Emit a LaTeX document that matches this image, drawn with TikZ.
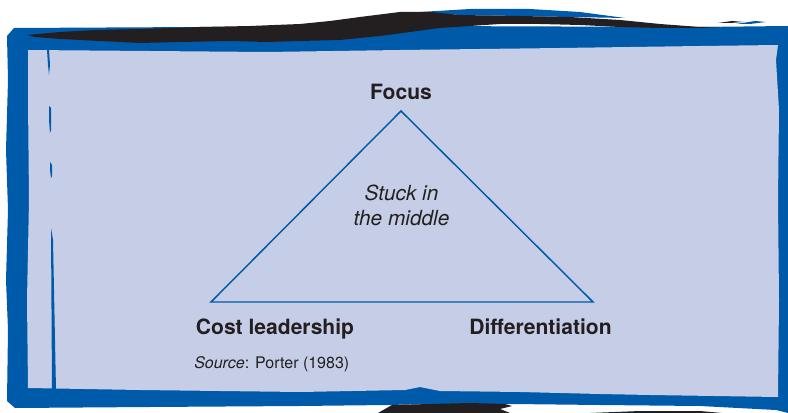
\documentclass[tikz,border=0pt]{standalone}
\usepackage{fontspec}
\setmainfont{TeX Gyre Heros}
\usepackage{xcolor}
\definecolor{frameblue}{RGB}{0,90,170}
\definecolor{panel}{RGB}{197,206,230}
\definecolor{ink}{RGB}{35,31,32}
\tikzset{
  corner/.style={font=\bfseries\fontsize{15.8}{18}\selectfont, text=ink, inner sep=0.75pt, anchor=base},
  middle/.style={font=\itshape\fontsize{15.6}{18.75}\selectfont, text=ink, inner sep=0.75pt, align=center},
  brush/.style={draw=none, fill=#1}
}

\begin{document}
\begin{tikzpicture}[x=0.75pt,y=0.75pt,yscale=-1,xscale=1]
\useasboundingbox (0,0) rectangle (788,413);
%Shape: Polygon [frame]
\fill [brush=frameblue] (14,28) -- (200,27) -- (420,26) -- (700,27) -- (788,26) -- (788,413) -- (776,410) -- (700,406) -- (600,405) -- (512,404) -- (430,404) -- (388,405) -- (300,406) -- (150,407) -- (15,408) -- (7,401) -- (8,330) -- (6,280) -- (8,210) -- (6,150) -- (8,80) -- (7,36) -- cycle ;
%Shape: Polygon [panel]
\fill [brush=panel] (28,50) -- (150,51) -- (267,52) -- (400,50) -- (560,48) -- (700,46) -- (778,45) -- (776,60) -- (779,110) -- (778,200) -- (779,300) -- (778,397) -- (650,395) -- (600,394) -- (520,392) -- (440,391) -- (420,387) -- (405,390) -- (300,392) -- (140,390) -- (28,388) -- (27,300) -- (29,200) -- (28,100) -- cycle ;
%Shape: Polygon [brush stroke top]
\fill [brush=frameblue] (420,12) -- (470,9) -- (530,9) -- (580,12) -- (625,18) -- (570,17) -- (520,16) -- (460,15) -- cycle ;
\fill [brush=ink] (27,35) -- (60,32) -- (95,30) -- (140,29) -- (200,27) -- (250,26) -- (300,24) -- (330,21) -- (360,17) -- (400,12) -- (430,12) -- (460,15) -- (520,16) -- (570,17) -- (620,20) -- (660,24) -- (700,27) -- (720,27) -- (700,28) -- (660,28) -- (620,27) -- (580,25) -- (540,24) -- (500,24) -- (470,26) -- (440,28) -- (410,32) -- (380,36) -- (340,40) -- (300,41) -- (267,42) -- (230,41) -- (180,42) -- (140,43) -- (100,41) -- (60,39) -- (35,37) -- cycle ;
\fill [brush=ink] (718,23) -- (732,21) -- (744,22) -- (730,23) -- cycle ;
\fill [brush=frameblue] (736,24) -- (755,21) -- (766,22) -- (750,24) -- cycle ;
%Shape: Polygon [brush stroke bottom]
\fill [brush=ink] (378,413) -- (392,405) -- (430,404) -- (470,403) -- (505,404) -- (512,406) -- (500,409) -- (510,413) -- cycle ;
\fill [brush=ink] (590,413) -- (640,411) -- (700,411) -- (722,413) -- cycle ;
%Shape: Polygon [inner stroke]
\fill [brush=frameblue] (47,50) -- (49,50) -- (50,65) -- (49,75) -- (48,65) -- cycle ;
\fill [brush=frameblue] (49,106) -- (51,108) -- (51,130) -- (50,133) -- (49,120) -- cycle ;
\fill [brush=frameblue] (50,162) -- (52,165) -- (52,176) -- (51,178) -- (50,170) -- cycle ;
\fill [brush=frameblue] (51,228) -- (53,240) -- (56,390) -- (52,390) -- cycle ;

%Triangle
\coordinate (apex) at (401,111) ;
\coordinate (left) at (211,302) ;
\coordinate (right) at (593,302) ;
\draw [frameblue, line width=1.1pt, line join=miter] (apex) -- (left) -- (right) -- cycle ;

% Text Node
\node [corner] (focus) at (401,100) {Focus};
% Text Node
\node [corner] (cost) at (275,334) {Cost leadership};
% Text Node
\node [corner] (diff) at (540.5,334) {Differentiation};
% Text Node
\node [middle, anchor=base] (stuck) at (401.5,225.7) {Stuck in\\the middle};
% Text Node
\node [font=\fontsize{12}{14}\selectfont, text=ink, inner sep=0.75pt, anchor=base west] (source) at (193,368) {\textit{Source}: Porter (1983)};
\end{tikzpicture}
\end{document}
